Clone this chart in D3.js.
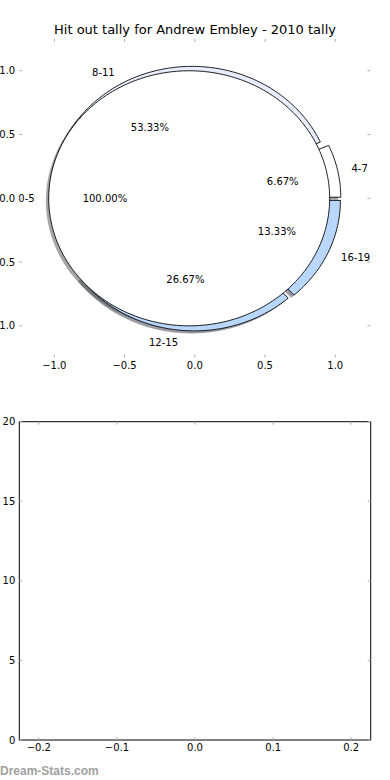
<!DOCTYPE html>
<html>
<head>
<meta charset="utf-8">
<script src="https://cdn.jsdelivr.net/npm/d3@7/dist/d3.min.js"></script>
<style>
  body { margin: 0; background: #fff; }
  text { font-family: "DejaVu Sans", sans-serif; }
</style>
</head>
<body>
<svg id="chart" width="390" height="780"></svg>
<script>
// pie data
const fullLabels = ["0-5"];
const fullValues = [1];
const binLabels = ["4-7", "8-11", "12-15", "16-19"];
const binValues = [1, 8, 4, 2];
const binColors = ["#ffffff", "#e7edfc", "#b9d6fb", "#b9d6fb"];
const explode = 0.04;

// ticks
const pieTicks = [-1.0, -0.5, 0.0, 0.5, 1.0];
const barXTicks = [-0.2, -0.1, 0.0, 0.1, 0.2];
const barYTicks = [0, 5, 10, 15, 20];

const svg = d3.select('#chart');

svg.append("text")
  .attr("x", 195).attr("y", 34)
  .attr("text-anchor", "middle")
  .style("font-size", "13px")
  .text("Hit out tally for Andrew Embley - 2010 tally");

// top axes (pie)
const x1 = d3.scaleLinear().domain([-1.25, 1.25]).range([19.2, 370.4]);
const y1 = d3.scaleLinear().domain([-1.25, 1.25]).range([357.7, 38.9]);

const line = d3.line().curve(d3.curveLinearClosed);

const wedgePath = (d, ox, oy) => {
  const a0 = d.startAngle, a1 = d.endAngle;
  const mid = (a0 + a1) / 2;
  const cx = explode * Math.cos(mid) + ox;
  const cy = explode * Math.sin(mid) + oy;
  const pts = [];
  const full = (a1 - a0) >= 2 * Math.PI - 1e-9;
  if (!full) pts.push([x1(cx), y1(cy)]);
  const n = Math.max(8, Math.ceil((a1 - a0) * 80));
  for (let i = 0; i <= n; i++) {
    const t = a0 + (a1 - a0) * i / n;
    pts.push([x1(cx + Math.cos(t)), y1(cy + Math.sin(t))]);
  }
  return line(pts);
};

// angles are read counterclockwise from east, starting at 0
const pie = d3.pie().sort(null);
const binArcs = pie(binValues).map((d, i) => ({...d, label: binLabels[i], color: binColors[i]}));
const fullArcs = pie(fullValues).map((d, i) => ({...d, label: fullLabels[i], color: "#ffffff"}));
const total = d3.sum(binValues);
binArcs.forEach(d => d.pct = d.value / total * 100);
fullArcs.forEach(d => d.pct = d.value / d3.sum(fullValues) * 100);

const allArcs = binArcs.concat(fullArcs);

const shadowColor = c => {
  const r = d3.rgb(c);
  return d3.rgb(r.r * 0.3, r.g * 0.3, r.b * 0.3);
};

svg.append("g")
  .selectAll("path")
  .data(allArcs)
  .join("path")
  .attr("d", d => wedgePath(d, -0.02, -0.02))
  .attr("fill", d => shadowColor(d.color))
  .attr("fill-opacity", 0.5)
  .attr("stroke", "none");

svg.append("g")
  .selectAll("path")
  .data(allArcs)
  .join("path")
  .attr("d", d => wedgePath(d, 0, 0))
  .attr("fill", d => d.color)
  .attr("stroke", "#000")
  .attr("stroke-width", 0.9);

const midOf = d => (d.startAngle + d.endAngle) / 2;

svg.append("g")
  .selectAll("text")
  .data(allArcs)
  .join("text")
  .attr("x", d => x1((1.1 + explode) * Math.cos(midOf(d))))
  .attr("y", d => y1((1.1 + explode) * Math.sin(midOf(d))))
  .attr("text-anchor", d => Math.cos(midOf(d)) > 0 ? "start" : "end")
  .attr("dominant-baseline", "central")
  .style("font-size", "10px")
  .text(d => d.label);

svg.append("g")
  .selectAll("text")
  .data(allArcs)
  .join("text")
  .attr("x", d => x1((0.6 + explode) * Math.cos(midOf(d))))
  .attr("y", d => y1((0.6 + explode) * Math.sin(midOf(d))))
  .attr("text-anchor", "middle")
  .attr("dominant-baseline", "central")
  .style("font-size", "10px")
  .text(d => d.pct.toFixed(2) + "%");

const tickColor = "#b0b0b0";
const fmt = d3.format(".1f");
const minus = s => s.replace("-", "\u2212");

// draws inward ticks on all four sides, labels left and bottom
const drawAxes = (x, y, xt, yt, yfmt, frame) => {
  const [l, r] = x.range();
  const [b, t] = y.range();
  const g = svg.append("g");
  if (frame) {
    g.append("rect")
      .attr("x", l).attr("y", t)
      .attr("width", r - l).attr("height", b - t)
      .attr("fill", "none").attr("stroke", "#000").attr("stroke-width", 1);
  }
  xt.forEach(v => {
    g.append("line").attr("x1", x(v)).attr("x2", x(v)).attr("y1", t).attr("y2", t + 3)
      .attr("stroke", tickColor);
    g.append("line").attr("x1", x(v)).attr("x2", x(v)).attr("y1", b).attr("y2", b - 3)
      .attr("stroke", tickColor);
    g.append("text").attr("x", x(v)).attr("y", b + 11)
      .attr("text-anchor", "middle").style("font-size", "10px")
      .text(minus(fmt(v)));
  });
  yt.forEach(v => {
    g.append("line").attr("x1", l).attr("x2", l + 3).attr("y1", y(v)).attr("y2", y(v))
      .attr("stroke", tickColor);
    g.append("line").attr("x1", r).attr("x2", r - 3).attr("y1", y(v)).attr("y2", y(v))
      .attr("stroke", tickColor);
    g.append("text").attr("x", l - 4).attr("y", y(v))
      .attr("text-anchor", "end").attr("dominant-baseline", "central")
      .style("font-size", "10px")
      .text(minus(yfmt(v)));
  });
};

drawAxes(x1, y1, pieTicks, pieTicks, fmt, false);

// bottom axes (empty bar chart)
const x2 = d3.scaleLinear().domain([-0.225, 0.225]).range([19.3, 370.7]);
const y2 = d3.scaleLinear().domain([0, 20]).range([740, 421.7]);
drawAxes(x2, y2, barXTicks, barYTicks, d3.format("d"), true);

svg.append("text")
  .attr("x", 0).attr("y", 775)
  .style("font-family", "'Liberation Sans', sans-serif")
  .style("font-size", "12px")
  .style("font-weight", "bold")
  .attr("fill", "#a0a0a0")
  .text("Dream-Stats.com");
</script>
</body>
</html>
